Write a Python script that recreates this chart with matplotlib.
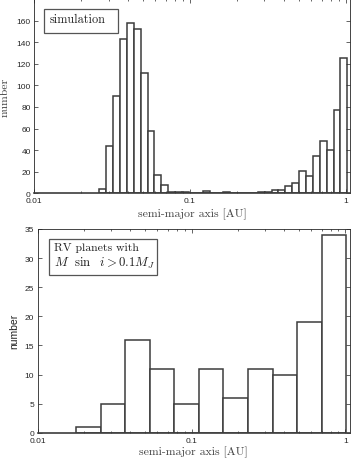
import numpy as np
import matplotlib
matplotlib.use('Agg')
from matplotlib import pyplot as plt
from matplotlib.patches import Rectangle
from matplotlib.ticker import FixedLocator, FixedFormatter, NullFormatter

# ===== dados =====
# painel de cima: simulacao, 36 bins log entre ~0.026 e ~1.02 AU
sim_a_min = 0.02615
sim_a_max = 1.024
sim_counts = [4, 44, 90, 143, 158, 152, 111, 58, 17, 8,
              1, 1, 1, 0, 0, 2, 0, 0, 1, 0,
              0, 0, 0, 1, 1, 3, 3, 7, 10, 21,
              16, 35, 48, 40, 77, 125]

# painel de baixo: planetas RV, 11 bins log
rv_a_min = 0.01774
rv_a_max = 1.012
rv_counts = [1, 5, 16, 11, 5, 11, 6, 11, 10, 19, 34]

xticks = [0.01, 0.1, 1]
xtick_labels = ['0.01', '0.1', '1']
top_yticks = [0, 20, 40, 60, 80, 100, 120, 140, 160]
bot_yticks = [0, 5, 10, 15, 20, 25, 30, 35]

sim_edges = np.logspace(np.log10(sim_a_min), np.log10(sim_a_max), len(sim_counts) + 1)
rv_edges = np.logspace(np.log10(rv_a_min), np.log10(rv_a_max), len(rv_counts) + 1)

plt.rcParams['mathtext.fontset'] = 'cm'

W, H = 351, 460
fig = plt.figure(figsize=(W / 100, H / 100), dpi=100)

axcol = '#262626'
barcol = '#3c3c3c'
boxcol = '#555555'
serif = 'cmr10'


def estilo(ax, yticks, xmax):
    ax.set_xscale('log')
    ax.set_xlim(0.01, xmax)
    ax.xaxis.set_major_locator(FixedLocator(xticks))
    ax.xaxis.set_major_formatter(FixedFormatter(xtick_labels))
    minors = [m * 10.0 ** e for e in (-2, -1) for m in range(2, 10)]
    ax.xaxis.set_minor_locator(FixedLocator(minors))
    ax.xaxis.set_minor_formatter(NullFormatter())
    ax.set_yticks(yticks)
    ax.tick_params(which='both', direction='in', top=True, right=True,
                   color=axcol, width=0.5, labelcolor=axcol)
    ax.tick_params(axis='x', pad=3)
    ax.tick_params(axis='y', pad=2.5)
    ax.tick_params(which='major', length=3)
    ax.tick_params(which='minor', length=1.7)
    for lab in ax.get_xticklabels() + ax.get_yticklabels():
        lab.set_fontfamily('Liberation Sans')
        lab.set_fontsize(6)
    for s in ax.spines.values():
        s.set_color(axcol)
        s.set_linewidth(0.6)
    ax.spines['bottom'].set_color(barcol)
    ax.spines['bottom'].set_linewidth(1.2)


def caixa(ax, x0, y0, x1, y1):
    # caixa tipo legenda do matlab, em fracao dos eixos
    ax.add_patch(Rectangle((x0, y0), x1 - x0, y1 - y0, transform=ax.transAxes,
                           facecolor='white', edgecolor=boxcol, linewidth=0.9, zorder=5))


# ===== painel de cima =====
ax1 = fig.add_axes([34.3 / W, 1 - 194.3 / H, (350 - 34.3) / W, 194.3 / H])
ax1.bar(sim_edges[:-1], sim_counts, width=np.diff(sim_edges), align='edge',
        color='white', edgecolor=barcol, linewidth=1.1)
ax1.set_ylim(0, 180)
estilo(ax1, top_yticks, 1.066)
ax1.set_xlabel('semi-major axis [AU]', fontfamily=serif, fontsize=8.5, color='#444444', labelpad=2.5)
ax1.set_ylabel('number', fontfamily=serif, fontsize=8.5, color='#444444', labelpad=5)
caixa(ax1, 0.031, 0.825, 0.265, 0.9485)
ax1.text(0.047, 0.895, 'simulation', transform=ax1.transAxes, fontfamily=serif,
         fontsize=8.8, va='center', ha='left', color='#222222', zorder=6)

# ===== painel de baixo =====
ax2 = fig.add_axes([37.7 / W, 1 - 433.7 / H, (349.5 - 37.7) / W, (433.7 - 230) / H])
ax2.bar(rv_edges[:-1], rv_counts, width=np.diff(rv_edges), align='edge',
        color='white', edgecolor=barcol, linewidth=1.1)
ax2.set_ylim(0, 35)
estilo(ax2, bot_yticks, 1.062)
ax2.set_xlabel('semi-major axis [AU]', fontfamily=serif, fontsize=8.5, color='#444444', labelpad=1)
ax2.set_ylabel('number', fontfamily='Liberation Sans', fontsize=7.5, color='#222222', labelpad=4)
caixa(ax2, 0.036, 0.774, 0.383, 0.951)
ax2.text(0.052, 0.912, 'RV planets with', transform=ax2.transAxes, fontfamily=serif,
         fontsize=8.5, va='center', ha='left', color='#222222', zorder=6)
ax2.text(0.052, 0.838, r'$M\ \ \sin\ \ i > 0.1M_J$', transform=ax2.transAxes,
         fontsize=9.3, va='center', ha='left', color='#222222', zorder=6)

fig.savefig('out.png', dpi=100)
